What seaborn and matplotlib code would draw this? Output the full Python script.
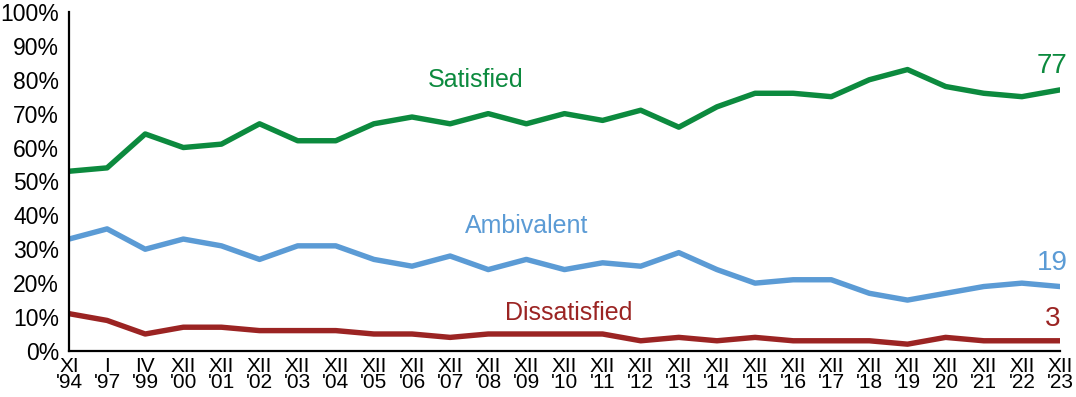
import pandas as pd
import numpy as np
import matplotlib
matplotlib.use("Agg")
import matplotlib.pyplot as plt
import seaborn as sns

# ---- data ----
waves = ["XI\n'94", "I\n'97", "IV\n'99", "XII\n'00", "XII\n'01", "XII\n'02", "XII\n'03",
         "XII\n'04", "XII\n'05", "XII\n'06", "XII\n'07", "XII\n'08", "XII\n'09", "XII\n'10",
         "XII\n'11", "XII\n'12", "XII\n'13", "XII\n'14", "XII\n'15", "XII\n'16", "XII\n'17",
         "XII\n'18", "XII\n'19", "XII\n'20", "XII\n'21", "XII\n'22", "XII\n'23"]
satisfied = [53, 54, 64, 60, 61, 67, 62, 62, 67, 69, 67, 70, 67, 70, 68, 71, 66, 72,
             76, 76, 75, 80, 83, 78, 76, 75, 77]
ambivalent = [33, 36, 30, 33, 31, 27, 31, 31, 27, 25, 28, 24, 27, 24, 26, 25, 29, 24,
              20, 21, 21, 17, 15, 17, 19, 20, 19]
dissatisfied = [11, 9, 5, 7, 7, 6, 6, 6, 5, 5, 4, 5, 5, 5, 5, 3, 4, 3,
                4, 3, 3, 3, 2, 4, 3, 3, 3]

series_names = ["Satisfied", "Ambivalent", "Dissatisfied"]
colors = {"Satisfied": "#0c8a3e", "Ambivalent": "#5b9bd5", "Dissatisfied": "#9b2423"}

# long format for seaborn
df = pd.DataFrame({
    "pos": np.tile(np.arange(len(waves)), 3),
    "value": satisfied + ambivalent + dissatisfied,
    "series": np.repeat(series_names, len(waves)),
})

sns.set_style("white")
plt.rcParams["font.family"] = ["Liberation Sans", "DejaVu Sans"]

fig = plt.figure(figsize=(10.76, 3.97), dpi=100)
ax = fig.add_axes([0.0641, 0.116, 0.921, 0.854])

sns.lineplot(data=df, x="pos", y="value", hue="series", palette=colors,
             linewidth=3.9, legend=False, ax=ax)
for line in ax.lines:
    line.set_solid_capstyle("round")

ax.set_xlim(0, len(waves) - 1)
ax.set_ylim(0, 100)
ax.set_xticks(np.arange(len(waves)))
ax.set_xticklabels(waves, fontsize=15, linespacing=0.85)
ax.set_yticks(range(0, 101, 10))
ax.set_yticklabels([f"{v}%" for v in range(0, 101, 10)], fontsize=16.5)
ax.tick_params(axis="x", length=0, pad=4, labelcolor="black")
ax.tick_params(axis="y", length=0, pad=7, labelcolor="black")
ax.set_xlabel("")
ax.set_ylabel("")

for side in ["top", "right"]:
    ax.spines[side].set_visible(False)
for side in ["left", "bottom"]:
    ax.spines[side].set_color("black")
    ax.spines[side].set_linewidth(1.6)

# series labels
ax.text(10.68, 80, "Satisfied", color=colors["Satisfied"], fontsize=18,
        ha="center", va="center")
ax.text(12.0, 37, "Ambivalent", color=colors["Ambivalent"], fontsize=18,
        ha="center", va="center")
ax.text(13.1, 11.2, "Dissatisfied", color=colors["Dissatisfied"], fontsize=18,
        ha="center", va="center")

# end values
last = len(waves) - 1
ax.text(last - 0.2, satisfied[-1] + 7, str(satisfied[-1]), color=colors["Satisfied"],
        fontsize=20, ha="center", va="center", clip_on=False)
ax.text(last - 0.2, ambivalent[-1] + 7, str(ambivalent[-1]), color=colors["Ambivalent"],
        fontsize=20, ha="center", va="center", clip_on=False)
ax.text(last - 0.2, dissatisfied[-1] + 6.5, str(dissatisfied[-1]), color=colors["Dissatisfied"],
        fontsize=20, ha="center", va="center", clip_on=False)

fig.savefig("out.png", dpi=100)
